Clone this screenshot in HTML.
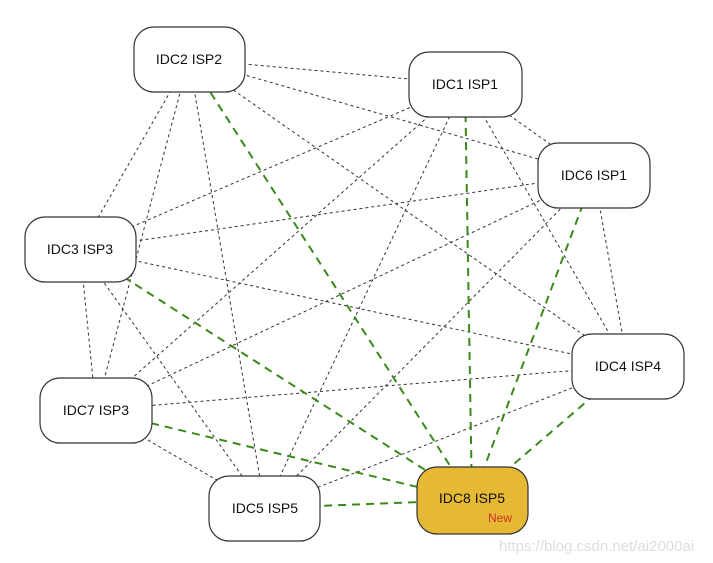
<!DOCTYPE html>
<html><head><style>body{margin:0;background:#fff}svg{display:block}</style></head><body>
<svg width="713" height="563" xmlns="http://www.w3.org/2000/svg" font-family="Liberation Sans, sans-serif">
<g stroke="#333" stroke-width="1" stroke-dasharray="3,3" fill="none">
<line x1="189" y1="59" x2="465" y2="84"/>
<line x1="189" y1="59" x2="594" y2="175"/>
<line x1="189" y1="59" x2="80" y2="249"/>
<line x1="189" y1="59" x2="628" y2="366"/>
<line x1="189" y1="59" x2="96" y2="410"/>
<line x1="189" y1="59" x2="265" y2="508"/>
<line x1="465" y1="84" x2="594" y2="175"/>
<line x1="465" y1="84" x2="80" y2="249"/>
<line x1="465" y1="84" x2="628" y2="366"/>
<line x1="465" y1="84" x2="96" y2="410"/>
<line x1="465" y1="84" x2="265" y2="508"/>
<line x1="594" y1="175" x2="80" y2="249"/>
<line x1="594" y1="175" x2="628" y2="366"/>
<line x1="594" y1="175" x2="96" y2="410"/>
<line x1="594" y1="175" x2="265" y2="508"/>
<line x1="80" y1="249" x2="628" y2="366"/>
<line x1="80" y1="249" x2="96" y2="410"/>
<line x1="80" y1="249" x2="265" y2="508"/>
<line x1="628" y1="366" x2="96" y2="410"/>
<line x1="628" y1="366" x2="265" y2="508"/>
<line x1="96" y1="410" x2="265" y2="508"/>
</g>
<g stroke="#3a8a1a" stroke-width="2" stroke-dasharray="8,6" fill="none">
<line x1="472" y1="500" x2="189" y2="59"/>
<line x1="472" y1="500" x2="465" y2="84"/>
<line x1="472" y1="500" x2="594" y2="175"/>
<line x1="472" y1="500" x2="80" y2="249"/>
<line x1="472" y1="500" x2="628" y2="366"/>
<line x1="472" y1="500" x2="96" y2="410"/>
<line x1="472" y1="500" x2="265" y2="508"/>
</g>
<g stroke="#333" stroke-width="1.2" fill="#fff">
<rect x="134" y="27" width="111" height="65" rx="20"/>
<rect x="409" y="52" width="113" height="65" rx="20"/>
<rect x="538" y="143" width="112" height="65" rx="20"/>
<rect x="25" y="217" width="111" height="65" rx="20"/>
<rect x="572" y="334" width="112" height="65" rx="20"/>
<rect x="40" y="378" width="112" height="65" rx="20"/>
<rect x="209" y="476" width="111" height="65" rx="20"/>
<rect x="417" y="467" width="111" height="67" rx="20" fill="#e6b935"/>
</g>
<g font-size="14" fill="#111" text-anchor="middle">
<text x="189" y="64">IDC2 ISP2</text>
<text x="465" y="89">IDC1 ISP1</text>
<text x="594" y="180">IDC6 ISP1</text>
<text x="80" y="254">IDC3 ISP3</text>
<text x="628" y="371">IDC4 ISP4</text>
<text x="96" y="415">IDC7 ISP3</text>
<text x="265" y="513">IDC5 ISP5</text>
<text x="472" y="503">IDC8 ISP5</text>
</g>
<text x="500" y="522" font-size="12" fill="#d03020" text-anchor="middle">New</text>
<text x="499" y="551" font-size="15" fill="#ddd">https://blog.csdn.net/ai2000ai</text>
</svg>
</body></html>
